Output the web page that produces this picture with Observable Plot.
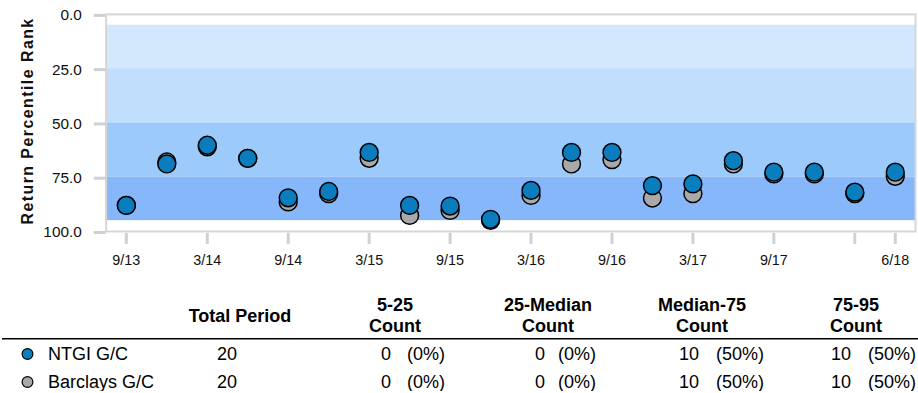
<!DOCTYPE html>
<html><head><meta charset="utf-8">
<script src="https://cdn.jsdelivr.net/npm/d3@7"></script>
<script src="https://cdn.jsdelivr.net/npm/@observablehq/plot@0.6"></script>
<style>
html,body{margin:0;padding:0;background:#fff;overflow:hidden;}
#wrap{width:918px;height:393px;overflow:hidden;position:relative;font-family:"Liberation Sans",Arial,sans-serif;}
#wrap svg{display:block;}
</style></head><body><div id="wrap"></div>
<script>
// ---- data ----
const quarters = ["9/13","12/13","3/14","6/14","9/14","12/14","3/15","6/15","9/15","12/15","3/16","6/16","9/16","12/16","3/17","6/17","9/17","12/17","3/18","6/18"];
const ntgiRank     = [88.0, 68.9, 60.3, 66.3, 84.5, 81.6, 63.6, 88.0, 88.3, 94.4, 81.1, 63.6, 63.6, 78.9, 78.1, 67.4, 72.7, 72.7, 81.9, 72.7];
const barclaysRank = [88.0, 68.0, 61.0, 66.3, 86.4, 82.6, 66.3, 92.6, 90.3, 94.9, 83.4, 68.9, 66.9, 84.6, 82.6, 68.9, 73.5, 73.5, 82.6, 74.6];
const xTickQuarters = ["9/13","3/14","9/14","3/15","9/15","3/16","9/16","3/17","9/17","3/18","6/18"];
const xTickUnlabeled = ["3/18"];
const yTicks = [0, 25, 50, 75, 100];
const bandLow  = [5, 25, 50, 75];
const bandHigh = [25, 50, 75, 95];

const seriesNames = ["NTGI G/C", "Barclays G/C"];
const totalPeriod = [20, 20];
const count5to25 = [0, 0];
const count25toMedian = [0, 0];
const countMedianTo75 = [10, 10];
const count75to95 = [10, 10];
const totalHeader = "Total Period";
const countHeaders = [["5-25","Count"],["25-Median","Count"],["Median-75","Count"],["75-95","Count"]];
const yTitle = "Return Percentile Rank";

// ---- styles ----
const bandColors = ["#d3e7fd", "#c1defd", "#9ccbfb", "#87b7fb"];
const seriesColors = ["#0a7dbf", "#a9a9a9"];
const FONT = '"Liberation Sans", Arial, Helvetica, sans-serif';
const axisGrey = "#cdd0d4";

const rows = quarters.map((q, i) => ({i, q, ntgi: ntgiRank[i], barclays: barclaysRank[i]}));
const bands = bandLow.map((lo, k) => ({lo, hi: bandHigh[k], color: bandColors[k]}));
const xTicks = xTickQuarters.map(q => quarters.indexOf(q));

const chart = Plot.plot({
  width: 926, height: 275,
  marginLeft: 106.5, marginRight: 3, marginTop: 14, marginBottom: 42,
  style: {fontFamily: FONT, fontSize: "15px", background: "transparent", color: "#000"},
  x: {type: "linear", domain: [-0.5, quarters.length - 0.5]},
  y: {domain: [0, 100], reverse: true},
  color: {type: "identity"},
  marks: [
    Plot.rect(bands, {y1: "lo", y2: "hi", fill: "color"}),
    Plot.frame({stroke: "#d6d6d6", strokeWidth: 2}),
    Plot.axisY(yTicks, {anchor: "left", tickSize: 12, tickPadding: 12.5, stroke: axisGrey, strokeWidth: 3,
      fill: "#111", fontSize: 15.5, tickFormat: d3.format(".1f"), dy: 1, label: null}),
    Plot.axisX(xTicks, {anchor: "bottom", tickSize: 11, tickPadding: 11, stroke: axisGrey, strokeWidth: 3,
      fill: "#111", fontSize: 14.5, dy: 2, label: null,
      tickFormat: i => xTickUnlabeled.includes(quarters[i]) ? "" : quarters[i]}),
    Plot.dot(rows, {x: "i", y: "barclays", r: 9, fill: seriesColors[1], stroke: "#000", strokeWidth: 1.5}),
    Plot.dot(rows, {x: "i", y: "ntgi", r: 9, fill: seriesColors[0], stroke: "#000", strokeWidth: 1.5}),
    Plot.text([yTitle], {frameAnchor: "left", textAnchor: "middle", lineAnchor: "middle", rotate: -90, dx: -79, dy: -2,
      fontWeight: "bold", fontSize: 16, fill: "#111"})
  ]
});
d3.select(chart).selectAll('g[aria-label="text"] text').style("letter-spacing", "1.5px");
document.getElementById("wrap").appendChild(chart);

// ---- table ----
const T = d3.select("#wrap").append("svg").attr("width", 918).attr("height", 118)
  .style("font-family", FONT).style("font-size", "18px");
const colCenters = [395, 548, 702, 856];
const countRight = [391, 545, 699, 851];
const pctLeft = [407, 558, 716, 868];
const rowY = [81, 109];

T.append("text").attr("x", 240).attr("y", 42.5).attr("text-anchor", "middle")
  .attr("dominant-baseline", "central").attr("font-weight", "bold").text(totalHeader);
countHeaders.forEach((lines, c) => {
  lines.forEach((s, l) => {
    T.append("text").attr("x", colCenters[c]).attr("y", 32 + l * 21.3).attr("text-anchor", "middle")
      .attr("dominant-baseline", "central").attr("font-weight", "bold").text(s);
  });
});
T.append("line").attr("x1", 2).attr("x2", 918).attr("y1", 65.7).attr("y2", 65.7)
  .attr("stroke", "#000").attr("stroke-width", 1.5);

const countCols = [count5to25, count25toMedian, countMedianTo75, count75to95];
seriesNames.forEach((name, r) => {
  const y = rowY[r];
  T.append("circle").attr("cx", 27.5).attr("cy", y).attr("r", 5.4)
    .attr("fill", seriesColors[r]).attr("stroke", "#000").attr("stroke-width", 1.2);
  T.append("text").attr("x", 48).attr("y", y).attr("dominant-baseline", "central").text(name);
  T.append("text").attr("x", 227).attr("y", y).attr("text-anchor", "middle").attr("dominant-baseline", "central").text(totalPeriod[r]);
  countCols.forEach((arr, c) => {
    T.append("text").attr("x", countRight[c]).attr("y", y).attr("text-anchor", "end")
      .attr("dominant-baseline", "central").text(arr[r]);
    T.append("text").attr("x", pctLeft[c]).attr("y", y).attr("dominant-baseline", "central")
      .text("(" + Math.round(arr[r] / totalPeriod[r] * 100) + "%)");
  });
});
</script></body></html>
